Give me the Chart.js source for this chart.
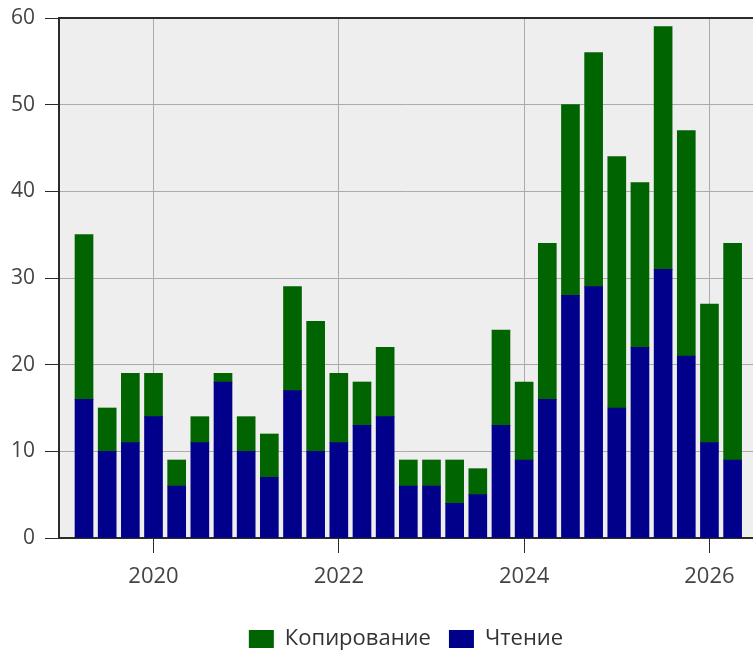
<!DOCTYPE html>
<html>
<head>
<meta charset="utf-8">
<script src="https://cdn.jsdelivr.net/npm/chart.js@4/dist/chart.umd.min.js"></script>
<style>
  html, body { margin: 0; padding: 0; background: #ffffff; }
  #wrap { width: 753px; height: 655px; }
</style>
</head>
<body>
<div id="wrap"><canvas id="chart" width="753" height="655"></canvas></div>
<script>
// Quarter of each bar (start of the quarter)
const quarters = [
  '2019-Q2', '2019-Q3', '2019-Q4',
  '2020-Q1', '2020-Q2', '2020-Q3', '2020-Q4',
  '2021-Q1', '2021-Q2', '2021-Q3', '2021-Q4',
  '2022-Q1', '2022-Q2', '2022-Q3', '2022-Q4',
  '2023-Q1', '2023-Q2', '2023-Q3', '2023-Q4',
  '2024-Q1', '2024-Q2', '2024-Q3', '2024-Q4',
  '2025-Q1', '2025-Q2', '2025-Q3', '2025-Q4',
  '2026-Q1', '2026-Q2'
];

// bottom part of each stack
const readValues = [
  16, 10, 11,
  14, 6, 11, 18,
  10, 7, 17, 10,
  11, 13, 14, 6,
  6, 4, 5, 13,
  9, 16, 28, 29,
  15, 22, 31, 21,
  11, 9
];

// top part of each stack
const copyValues = [
  19, 5, 8,
  5, 3, 3, 1,
  4, 5, 12, 15,
  8, 5, 8, 3,
  3, 5, 3, 11,
  9, 18, 22, 27,
  29, 19, 28, 26,
  16, 25
];

const yearTicks = [2020, 2022, 2024, 2026];
const yTicks = [0, 10, 20, 30, 40, 50, 60];

const seriesNames = ['Копирование', 'Чтение'];
const GREEN = '#006400';
const NAVY = '#00008b';

// '2021-Q3' -> 2021.5
function quarterToYear(q) {
  const [y, n] = q.split('-Q');
  return Number(y) + (Number(n) - 1) / 4;
}

const xs = quarters.map(quarterToYear);
const toPoints = vals => vals.map((v, i) => ({ x: xs[i], y: v }));

// grey plot background + dark top frame line
const plotFrame = {
  id: 'plotFrame',
  beforeDraw(chart) {
    const { ctx, chartArea: a } = chart;
    ctx.save();
    ctx.fillStyle = '#eeeeee';
    ctx.fillRect(a.left, a.top, a.right - a.left, a.bottom - a.top);
    ctx.restore();
  },
  afterDraw(chart) {
    const { ctx, chartArea: a } = chart;
    ctx.save();
    ctx.strokeStyle = '#2b2b2b';
    ctx.lineWidth = 2;
    ctx.beginPath();
    ctx.moveTo(a.left, a.top);
    ctx.lineTo(a.right, a.top);
    ctx.stroke();
    ctx.restore();
  }
};

Chart.defaults.font.family = '"Open Sans", "Noto Sans", sans-serif';
Chart.defaults.color = '#444444';

new Chart(document.getElementById('chart').getContext('2d'), {
  type: 'bar',
  data: {
    datasets: [
      {
        label: seriesNames[1],
        data: toPoints(readValues),
        backgroundColor: NAVY,
        borderWidth: 0,
        barThickness: 18
      },
      {
        label: seriesNames[0],
        data: toPoints(copyValues),
        backgroundColor: GREEN,
        borderWidth: 0,
        barThickness: 18
      }
    ]
  },
  options: {
    responsive: false,
    animation: false,
    layout: { padding: { left: 0, right: 0, top: 18, bottom: 0 } },
    plugins: {
      tooltip: { enabled: false },
      legend: {
        position: 'bottom',
        fullSize: false,
        reverse: true,
        maxHeight: 45,
        labels: {
          boxWidth: 25,
          boxHeight: 18,
          padding: 18,
          color: '#333333',
          font: { size: 22 }
        }
      }
    },
    scales: {
      x: {
        type: 'linear',
        stacked: true,
        min: 2018.98,
        max: 2026.47,
        offset: false,
        afterBuildTicks: scale => {
          scale.ticks = yearTicks.map(v => ({ value: v }));
        },
        afterFit: scale => { scale.height = 72; },
        grid: {
          offset: false,
          color: '#ababab',
          tickColor: '#2b2b2b',
          tickLength: 15,
          lineWidth: 1
        },
        border: { color: '#2b2b2b', width: 2 },
        ticks: {
          font: { size: 22 },
          padding: 11,
          maxRotation: 0,
          callback: v => String(v)
        }
      },
      y: {
        stacked: true,
        min: 0,
        max: 60,
        afterBuildTicks: scale => {
          scale.ticks = yTicks.map(v => ({ value: v }));
        },
        afterFit: scale => {
          scale.width = 59;
          scale.paddingTop = 0;
          scale.paddingBottom = 0;
        },
        grid: {
          color: '#ababab',
          tickColor: '#2b2b2b',
          tickLength: 14,
          lineWidth: 1
        },
        border: { color: '#2b2b2b', width: 2 },
        ticks: {
          font: { size: 21, lineHeight: 1 },
          padding: 10
        }
      }
    }
  },
  plugins: [plotFrame]
});
</script>
</body>
</html>
